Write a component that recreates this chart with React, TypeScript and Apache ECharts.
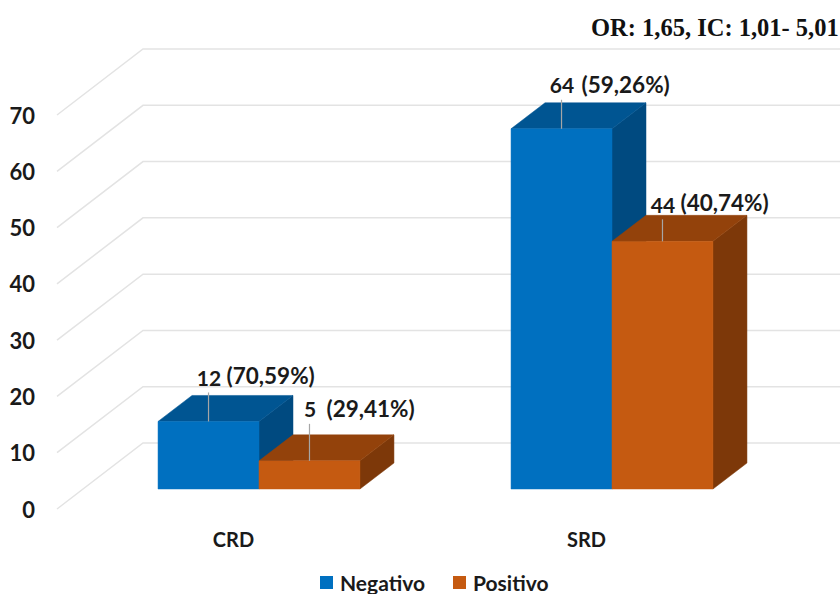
import React, { useEffect, useRef } from "react";
import * as echarts from "echarts";

const categories = ["CRD", "SRD"];
const seriesNames = ["Negativo", "Positivo"];
const negativeValues = [12, 64];
const positiveValues = [5, 44];
const negativeShares = ["(70,59%)", "(59,26%)"];
const positiveShares = ["(29,41%)", "(40,74%)"];
const gridValues = [0, 10, 20, 30, 40, 50, 60, 70];
const headline = "OR: 1,65, IC: 1,01- 5,01";

// Oblique projection of the chart box and of the bars inside it.
const WALL_DX = 86;
const WALL_DY = 66;
const BAR_SHIFT_X = 25.5;
const BAR_SHIFT_Y = 20;
const BAR_DX = 34;
const BAR_DY = 26;
const BAR_SHARE = 0.286;
const FONT = "Lato, Carlito, sans-serif";

const faces = {
  Negativo: { front: "#0070c0", top: "#005592", side: "#004a80" },
  Positivo: { front: "#c55a11", top: "#93420b", side: "#7d3809" },
};

function barRenderer(
  name: "Negativo" | "Positivo",
  shares: string[],
  leaders: number[],
  shareDx: number[],
  shareDy: number[]
) {
  const colors = faces[name];
  const side = name === "Negativo" ? -1 : 0;
  return (params: any, api: any) => {
    const i = params.dataIndex;
    const value = api.value(1);
    const [cx, py] = api.coord([api.value(0), value]);
    const [, py0] = api.coord([api.value(0), 0]);
    const w = api.size([1, 0])[0] * BAR_SHARE;
    const x0 = cx + BAR_SHIFT_X + side * w;
    const x1 = x0 + w;
    const yb = py0 - BAR_SHIFT_Y;
    const yt = py - BAR_SHIFT_Y;
    const mid = (x0 + x1) / 2;
    const leaderTop = yt - leaders[i];
    const poly = (points: number[][], fill: string) => ({
      type: "polygon",
      shape: { points },
      style: { fill, stroke: fill, lineWidth: 0.5 },
    });
    return {
      type: "group",
      children: [
        poly(
          [
            [x1, yb],
            [x1 + BAR_DX, yb - BAR_DY],
            [x1 + BAR_DX, yt - BAR_DY],
            [x1, yt],
          ],
          colors.side
        ),
        poly(
          [
            [x0, yt],
            [x0 + BAR_DX, yt - BAR_DY],
            [x1 + BAR_DX, yt - BAR_DY],
            [x1, yt],
          ],
          colors.top
        ),
        poly(
          [
            [x0, yb],
            [x1, yb],
            [x1, yt],
            [x0, yt],
          ],
          colors.front
        ),
        {
          type: "line",
          shape: { x1: mid, y1: yt, x2: mid, y2: leaderTop },
          style: { stroke: "#a6a6a6", lineWidth: 1.2 },
        },
        {
          type: "text",
          style: {
            x: mid + 0.5,
            y: leaderTop - 15,
            text: String(value),
            fill: "#1a1a1a",
            font: `bold 21px ${FONT}`,
            align: "center",
            verticalAlign: "middle",
          },
        },
        {
          type: "text",
          style: {
            x: mid + shareDx[i],
            y: leaderTop - 15 + shareDy[i],
            text: shares[i],
            fill: "#1a1a1a",
            font: `bold 22.5px ${FONT}`,
            align: "left",
            verticalAlign: "middle",
          },
        },
      ],
    };
  };
}

export default function App() {
  const ref = useRef<HTMLDivElement>(null);

  useEffect(() => {
    document.body.style.margin = "0";
    const chart = echarts.init(ref.current!, null, { renderer: "svg" });
    chart.setOption({
      animation: false,
      backgroundColor: "#ffffff",
      title: {
        text: headline,
        left: 591,
        top: 15,
        padding: 0,
        textStyle: {
          fontFamily: "'Liberation Serif', serif",
          fontWeight: "bold",
          fontSize: 24.5,
          color: "#111111",
        },
      },
      legend: {
        data: seriesNames,
        left: 320,
        top: 572,
        padding: 0,
        itemWidth: 13,
        itemHeight: 13,
        itemGap: 28,
        icon: "rect",
        selectedMode: false,
        textStyle: {
          fontFamily: FONT,
          fontWeight: "bold",
          fontSize: 21,
          color: "#1a1a1a",
          padding: [0, 0, 0, 2],
        },
      },
      grid: { left: 57, top: 115, width: 706, height: 394 },
      xAxis: {
        type: "category",
        data: categories,
        axisLine: { show: false },
        axisTick: { show: false },
        axisLabel: {
          margin: 20,
          fontFamily: FONT,
          fontWeight: "bold",
          fontSize: 20,
          color: "#1a1a1a",
        },
      },
      yAxis: {
        type: "value",
        min: 0,
        max: 70,
        interval: 10,
        axisLine: { show: false },
        axisTick: { show: false },
        splitLine: { show: false },
        axisLabel: {
          margin: 22,
          fontFamily: FONT,
          fontWeight: "bold",
          fontSize: 22,
          color: "#1a1a1a",
        },
      },
      series: [
        {
          // Floor and back-wall lines of the box, one per axis step.
          type: "custom",
          name: "walls",
          silent: true,
          clip: false,
          data: gridValues.map((v) => [0, v]),
          encode: { x: 0, y: 1 },
          z: 1,
          renderItem: (params: any, api: any) => {
            const y = api.coord([0, api.value(1)])[1];
            const x = params.coordSys.x;
            return {
              type: "polyline",
              shape: {
                points: [
                  [x, y],
                  [x + WALL_DX, y - WALL_DY],
                  [840, y - WALL_DY],
                ],
              },
              style: { stroke: "#e3e3e3", lineWidth: 1.5, fill: "none" },
            };
          },
        },
        {
          type: "custom",
          name: "Negativo",
          clip: false,
          data: negativeValues.map((v, i) => [i, v]),
          encode: { x: 0, y: 1 },
          z: 2,
          itemStyle: { color: faces.Negativo.front },
          renderItem: barRenderer("Negativo", negativeShares, [29, 29], [18, 20], [-2, 0]),
        },
        {
          type: "custom",
          name: "Positivo",
          clip: false,
          data: positiveValues.map((v, i) => [i, v]),
          encode: { x: 0, y: 1 },
          z: 3,
          itemStyle: { color: faces.Positivo.front },
          renderItem: barRenderer("Positivo", positiveShares, [37, 22], [17, 18], [0, -2]),
        },
      ],
    });
    return () => chart.dispose();
  }, []);

  return (
    <div
      ref={ref}
      style={{ position: "fixed", left: 0, top: 0, width: 840, height: 594, overflow: "hidden" }}
    />
  );
}
